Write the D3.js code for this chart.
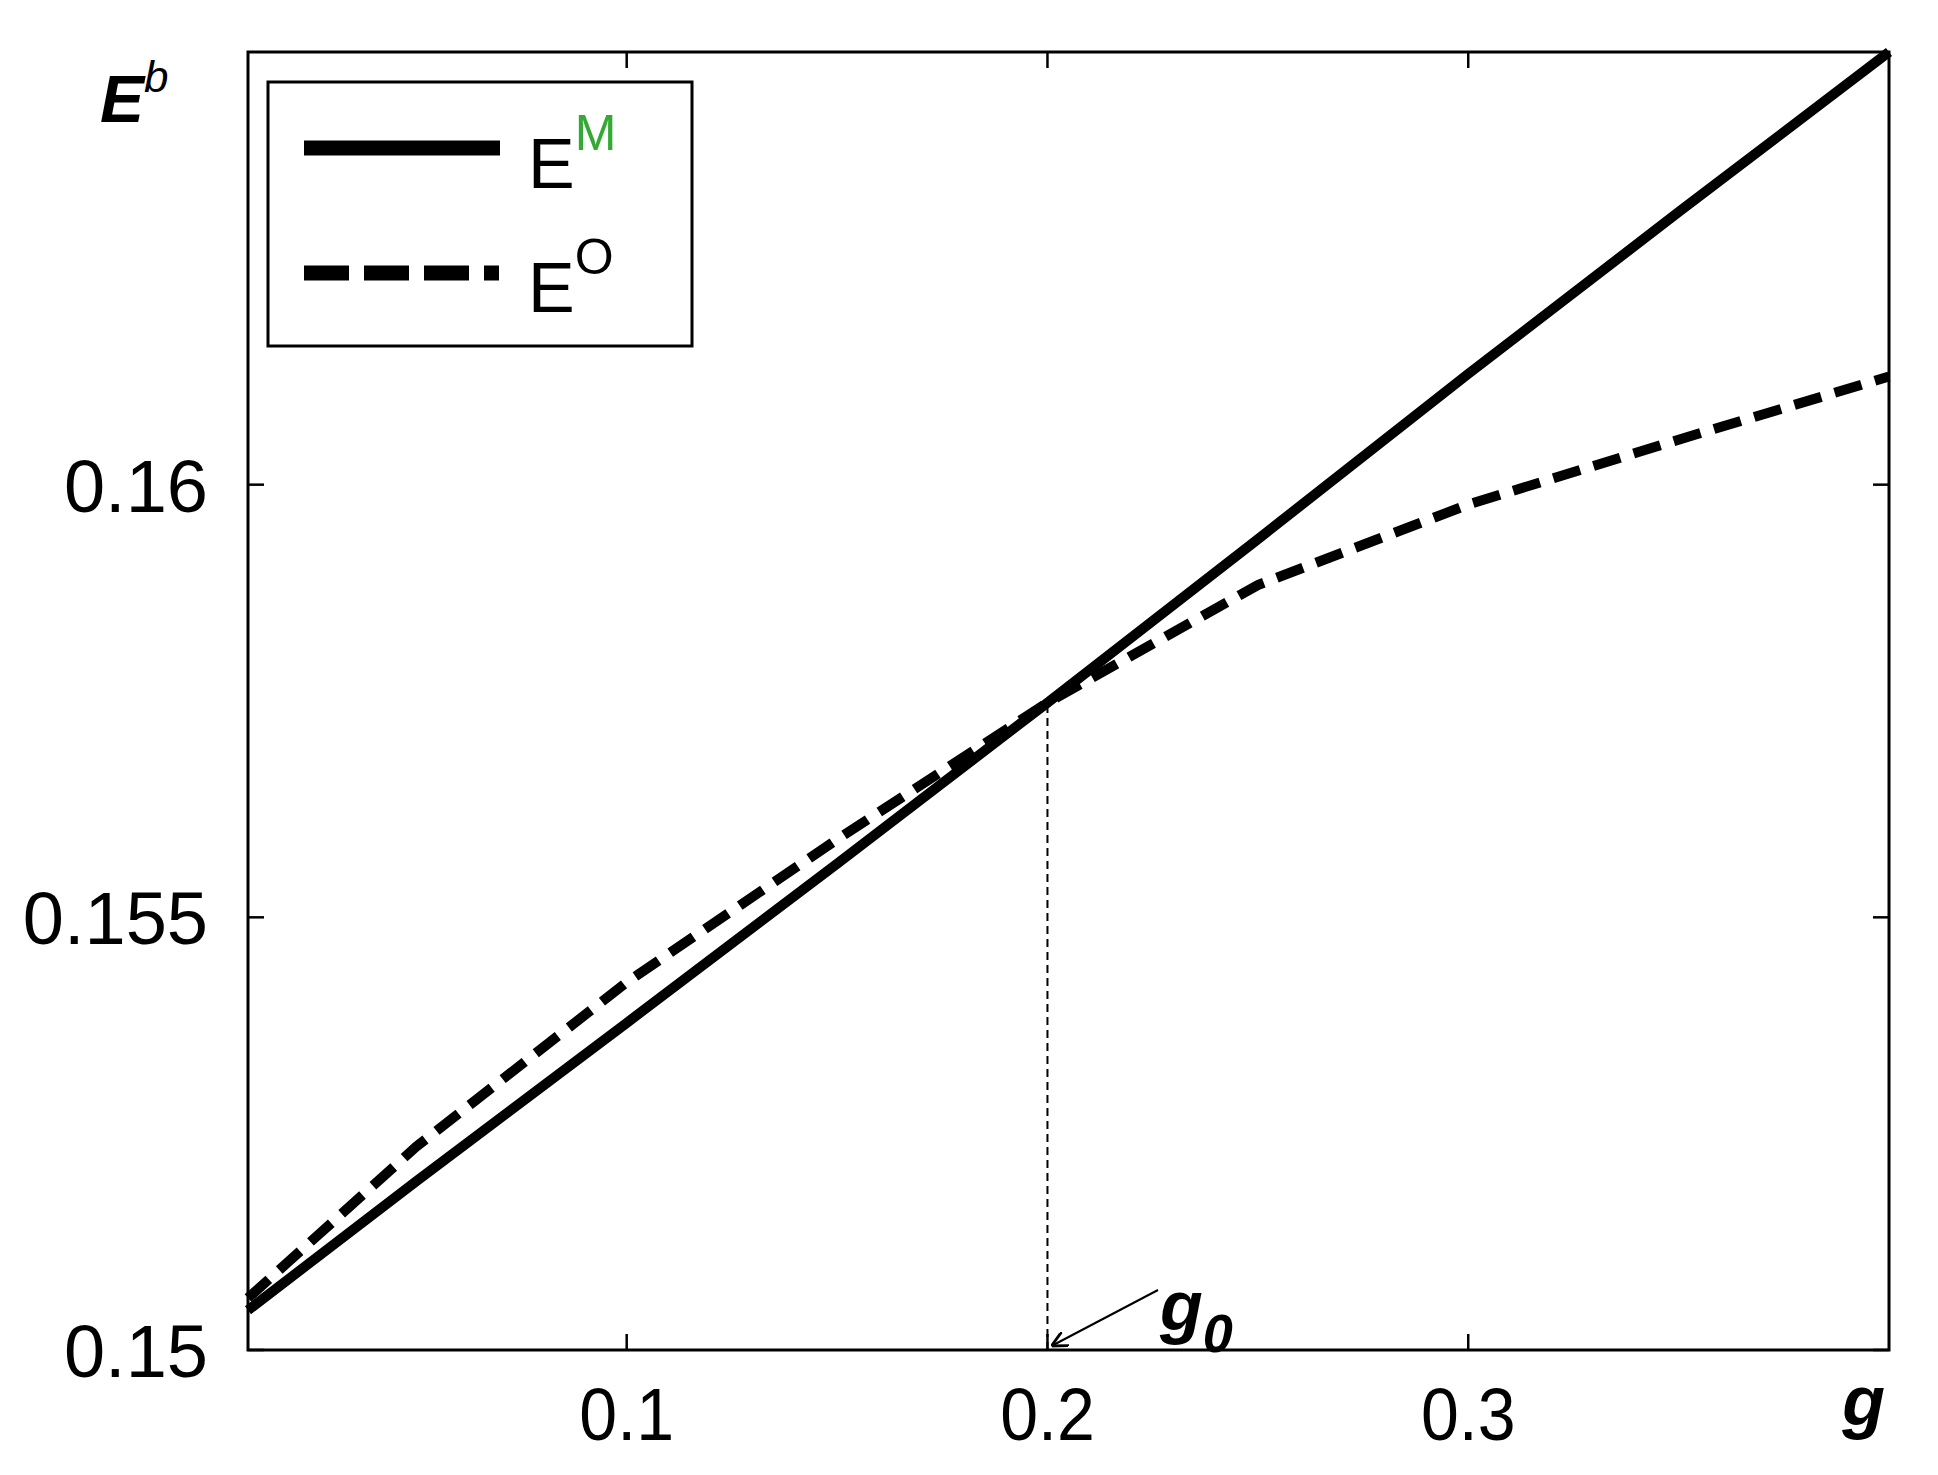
<!DOCTYPE html>
<html><head><meta charset="utf-8">
<script src="https://cdn.jsdelivr.net/npm/d3@7"></script>
<style>body{margin:0;background:#fff}</style></head>
<body><svg id="c" width="1938" height="1475"></svg>
<script>
const gVals = [0.01, 0.05, 0.1, 0.15, 0.2, 0.25, 0.3, 0.35, 0.4];
const eM =   [0.15046, 0.15195, 0.15378, 0.15562, 0.15748, 0.15937, 0.16128, 0.16315, 0.1650];
const eO =   [0.1506, 0.15235, 0.15425, 0.1559, 0.15748, 0.15884, 0.15977, 0.16052, 0.16125];
const xTicks = [0.1, 0.2, 0.3];
const yTicks = [0.15, 0.155, 0.16];
const g0 = 0.2;

const svg = d3.select('#c');
const L=248,R=1889,T=52,B=1350;
const x = d3.scaleLinear().domain([0.01,0.4]).range([L,R]);
const y = d3.scaleLinear().domain([0.15,0.165]).range([B,T]);
const font = 'Liberation Sans, Arial, sans-serif';

const tl = 16;
xTicks.forEach(t=>{
  svg.append('line').attr('x1',x(t)).attr('x2',x(t)).attr('y1',B).attr('y2',B-tl).attr('stroke','#000').attr('stroke-width',2.5);
  svg.append('line').attr('x1',x(t)).attr('x2',x(t)).attr('y1',T).attr('y2',T+tl).attr('stroke','#000').attr('stroke-width',2.5);
  svg.append('text').attr('x',x(t)).attr('y',B+90).attr('text-anchor','middle').attr('font-family',font).attr('font-size',74).attr('transform-origin',`${x(t)} ${B+90}`).attr('transform','scale(0.92,1)').text(t.toString());
});
yTicks.forEach(t=>{
  svg.append('line').attr('x1',L).attr('x2',L+tl).attr('y1',y(t)).attr('y2',y(t)).attr('stroke','#000').attr('stroke-width',2.5);
  svg.append('line').attr('x1',R).attr('x2',R-tl).attr('y1',y(t)).attr('y2',y(t)).attr('stroke','#000').attr('stroke-width',2.5);
  svg.append('text').attr('x',L-40).attr('y',y(t)+27).attr('text-anchor','end').attr('font-family',font).attr('font-size',74).text(t.toString());
});

svg.append('line').attr('x1',x(g0)).attr('x2',x(g0)).attr('y1',B).attr('y2',y(0.15748))
  .attr('stroke','#000').attr('stroke-width',2).attr('stroke-dasharray','8,5');

const line = d3.line().x(d=>x(d[0])).y(d=>y(d[1]));
svg.append('path').attr('d',line(gVals.map((g,i)=>[g,eM[i]]))).attr('fill','none').attr('stroke','#000').attr('stroke-width',10);
svg.append('path').attr('d',line(gVals.map((g,i)=>[g,eO[i]]))).attr('fill','none').attr('stroke','#000').attr('stroke-width',10).attr('stroke-dasharray','28,14');

svg.append('rect').attr('x',L).attr('y',T).attr('width',R-L).attr('height',B-T).attr('fill','none').attr('stroke','#000').attr('stroke-width',3);

svg.append('rect').attr('x',268).attr('y',82).attr('width',424).attr('height',264).attr('fill','#fff').attr('stroke','#000').attr('stroke-width',3);
svg.append('line').attr('x1',304).attr('x2',500).attr('y1',148).attr('y2',148).attr('stroke','#000').attr('stroke-width',15);
svg.append('line').attr('x1',304).attr('x2',500).attr('y1',273).attr('y2',273).attr('stroke','#000').attr('stroke-width',15).attr('stroke-dasharray','45,15,45,15,45,15,15');
const lt1 = svg.append('text').attr('x',528).attr('y',188).attr('font-family',font).attr('font-size',70);
lt1.append('tspan').text('E');
lt1.append('tspan').attr('dy',-38).attr('font-size',50).attr('fill','#3a3').text('M');
const lt2 = svg.append('text').attr('x',528).attr('y',312).attr('font-family',font).attr('font-size',70);
lt2.append('tspan').text('E');
lt2.append('tspan').attr('dy',-38).attr('font-size',50).text('O');

const eb = svg.append('text').attr('x',100).attr('y',122).attr('font-family',font).attr('font-size',66).attr('font-weight','bold').attr('font-style','italic');
eb.append('tspan').text('E');
eb.append('tspan').attr('dy',-30).attr('font-size',44).attr('font-weight','normal').text('b');
svg.append('text').attr('x',1885).attr('y',1425).attr('text-anchor','end').attr('font-family',font).attr('font-size',70).attr('font-weight','bold').attr('font-style','italic').text('g');
const gl = svg.append('text').attr('x',1160).attr('y',1330).attr('font-family',font).attr('font-size',70).attr('font-weight','bold').attr('font-style','italic');
gl.append('tspan').text('g');
gl.append('tspan').attr('dy',22).attr('font-size',54).text('0');

svg.append('defs').append('marker').attr('id','ar').attr('viewBox','0 0 10 10').attr('refX',10).attr('refY',5)
  .attr('markerWidth',16).attr('markerHeight',16).attr('markerUnits','userSpaceOnUse').attr('orient','auto')
  .append('path').attr('d','M0,0 L10,5 L0,10').attr('fill','none').attr('stroke','#000').attr('stroke-width',1.8);
svg.append('line').attr('x1',1158).attr('y1',1290).attr('x2',x(g0)+4).attr('y2',B-4).attr('stroke','#000').attr('stroke-width',2).attr('marker-end','url(#ar)');
</script></body></html>
